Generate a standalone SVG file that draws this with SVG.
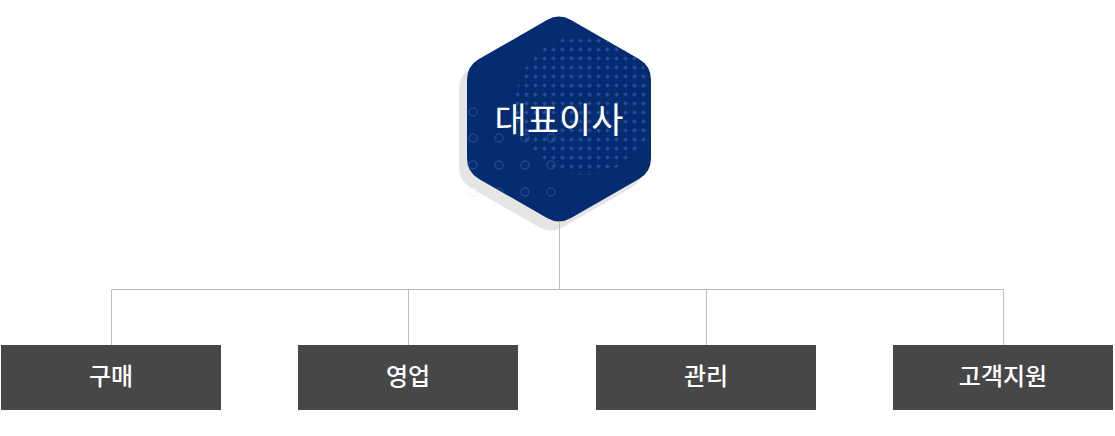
<svg xmlns="http://www.w3.org/2000/svg" width="1115" height="436" viewBox="0 0 1115 436">
<style>
.conn{stroke:#bdbdbd;stroke-width:1;fill:none}
.box{fill:#474747}
.lbl{fill:#ffffff;font-family:"Noto Sans CJK KR","Noto Sans",sans-serif;font-size:24px;font-weight:500;text-anchor:middle}
.ceo{fill:#ffffff;font-family:"Noto Sans CJK KR","Noto Sans",sans-serif;font-size:35px;font-weight:400;text-anchor:middle}
.ring{fill:none;stroke:#22478a;stroke-width:1.5}
.ring2{fill:none;stroke:#f3f3f3;stroke-width:1.5}
</style>
<defs>
<path id="hex" d="M546.99,19.92 A24,24 0 0 1 571.01,19.92 L638.99,59.08 A24,24 0 0 1 651,79.86 L651,158.14 A24,24 0 0 1 638.99,178.92 L571.01,218.08 A24,24 0 0 1 546.99,218.08 L479.01,178.92 A24,24 0 0 1 467,158.14 L467,79.86 A24,24 0 0 1 479.01,59.08 Z"/>
<clipPath id="hexClip"><use href="#hex"/></clipPath>
<clipPath id="dotClip"><circle cx="585" cy="105" r="70"/></clipPath>
<pattern id="plus" x="0" y="0" width="9" height="9" patternUnits="userSpaceOnUse">
<path d="M4.5,2.5 V6.5 M2.5,4.5 H6.5" stroke="#26509a" stroke-width="1.5"/>
</pattern>
</defs>
<g id="ceo">
<use href="#hex" transform="translate(-8,9)" fill="#e5e5e5"/>
<g opacity="0.8">
<circle class="ring2" cx="473" cy="192" r="4"/>
<circle class="ring2" cx="499" cy="192" r="4"/>
</g>
<use href="#hex" fill="#052b70"/>
<g clip-path="url(#hexClip)">
<rect x="510" y="30" width="150" height="160" fill="url(#plus)" clip-path="url(#dotClip)"/>
<circle class="ring" cx="473" cy="112" r="4"/>
<circle class="ring" cx="473" cy="138" r="4"/>
<circle class="ring" cx="499" cy="138" r="4"/>
<circle class="ring" cx="525" cy="138" r="4"/>
<circle class="ring" cx="551" cy="138" r="4"/>
<circle class="ring" cx="473" cy="165" r="4"/>
<circle class="ring" cx="499" cy="165" r="4"/>
<circle class="ring" cx="525" cy="165" r="4"/>
<circle class="ring" cx="551" cy="165" r="4"/>
<circle class="ring" cx="473" cy="192" r="4"/>
<circle class="ring" cx="499" cy="192" r="4"/>
<circle class="ring" cx="525" cy="192" r="4"/>
<circle class="ring" cx="551" cy="192" r="4"/>
</g>
<text class="ceo" x="559" y="133">대표이사</text>
</g>
<g id="connectors">
<path class="conn" d="M559.5,221 V289.5 M111.5,289.5 H1003.5 M111.5,289.5 V345 M408.5,289.5 V345 M706.5,289.5 V345 M1003.5,289.5 V345"/>
</g>
<g id="n1"><rect class="box" x="1" y="345" width="220" height="65"/><text class="lbl" x="111" y="385">구매</text></g>
<g id="n2"><rect class="box" x="298" y="345" width="220" height="65"/><text class="lbl" x="408" y="385">영업</text></g>
<g id="n3"><rect class="box" x="596" y="345" width="220" height="65"/><text class="lbl" x="706" y="385">관리</text></g>
<g id="n4"><rect class="box" x="893" y="345" width="220" height="65"/><text class="lbl" x="1003" y="385">고객지원</text></g>
</svg>
